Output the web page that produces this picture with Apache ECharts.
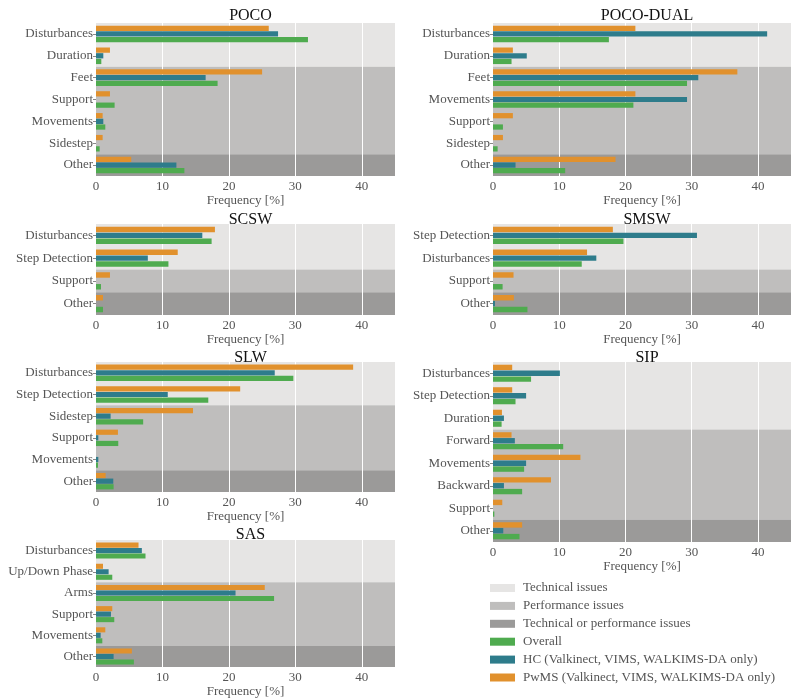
<!DOCTYPE html>
<html>
<head>
<meta charset="utf-8">
<script src="https://cdn.jsdelivr.net/npm/echarts@6/dist/echarts.min.js"></script>
<style>
  html, body { margin: 0; padding: 0; background: #fff; }
  #chart { width: 800px; height: 699px; }
</style>
</head>
<body>
<div id="chart"></div>
<script>
// band types: T = technical, P = performance, O = technical or performance
const pocoCats = ['Disturbances', 'Duration', 'Feet', 'Support', 'Movements', 'Sidestep', 'Other']
const pocoBands = ['T', 'T', 'P', 'P', 'P', 'P', 'O']
const pocoOverall = [31.9, 0.8, 18.3, 2.8, 1.4, 0.55, 13.3]
const pocoHc = [27.4, 1.1, 16.5, 0, 1.1, 0, 12.1]
const pocoPwms = [26.0, 2.1, 25.0, 2.1, 1.0, 1.0, 5.3]

const dualCats = ['Disturbances', 'Duration', 'Feet', 'Movements', 'Support', 'Sidestep', 'Other']
const dualBands = ['T', 'T', 'P', 'P', 'P', 'P', 'O']
const dualOverall = [17.5, 2.8, 29.3, 21.2, 1.5, 0.7, 10.9]
const dualHc = [41.4, 5.1, 31.0, 29.3, 0, 0, 3.4]
const dualPwms = [21.5, 3.0, 36.9, 21.5, 3.0, 1.5, 18.5]

const scswCats = ['Disturbances', 'Step Detection', 'Support', 'Other']
const scswBands = ['T', 'T', 'P', 'O']
const scswOverall = [17.4, 10.9, 0.75, 1.05]
const scswHc = [16.0, 7.8, 0, 0]
const scswPwms = [17.9, 12.3, 2.1, 1.05]

const smswCats = ['Step Detection', 'Disturbances', 'Support', 'Other']
const smswBands = ['T', 'T', 'P', 'O']
const smswOverall = [19.7, 13.4, 1.45, 5.2]
const smswHc = [30.8, 15.6, 0, 0.3]
const smswPwms = [18.1, 14.2, 3.1, 3.15]

const slwCats = ['Disturbances', 'Step Detection', 'Sidestep', 'Support', 'Movements', 'Other']
const slwBands = ['T', 'T', 'P', 'P', 'P', 'O']
const slwOverall = [29.7, 16.9, 7.1, 3.35, 0.3, 2.65]
const slwHc = [26.9, 10.8, 2.2, 0.35, 0.35, 2.6]
const slwPwms = [38.7, 21.7, 14.6, 3.3, 0, 1.45]

const sipCats = ['Disturbances', 'Step Detection', 'Duration', 'Forward', 'Movements', 'Backward', 'Support', 'Other']
const sipBands = ['T', 'T', 'T', 'P', 'P', 'P', 'P', 'O']
const sipOverall = [5.75, 3.4, 1.3, 10.6, 4.7, 4.4, 0.2, 4.0]
const sipHc = [10.1, 5.0, 1.65, 3.3, 5.0, 1.65, 0, 1.55]
const sipPwms = [2.9, 2.9, 1.35, 2.8, 13.2, 8.75, 1.4, 4.4]

const sasCats = ['Disturbances', 'Up/Down Phase', 'Arms', 'Support', 'Movements', 'Other']
const sasBands = ['T', 'T', 'P', 'P', 'P', 'O']
const sasOverall = [7.45, 2.45, 26.8, 2.75, 0.95, 5.7]
const sasHc = [6.9, 1.9, 21.0, 2.25, 0.7, 2.65]
const sasPwms = [6.4, 1.05, 25.4, 2.45, 1.4, 5.4]

const FONT = 'Liberation Serif'
const bandColors = { T: '#e6e5e4', P: '#bfbebd', O: '#9b9a99' }
const bandNames = { T: 'Technical issues', P: 'Performance issues', O: 'Technical or performance issues' }
const nameOverall = 'Overall'
const nameHc = 'HC (Valkinect, VIMS, WALKIMS-DA only)'
const namePwms = 'PwMS (Valkinect, VIMS, WALKIMS-DA only)'
const colOverall = '#4fab4f'
const colHc = '#2e7c8b'
const colPwms = '#e1912d'

const panels = [
  { title: 'POCO', cats: pocoCats, bands: pocoBands, overall: pocoOverall, hc: pocoHc, pwms: pocoPwms, rect: [96, 23, 299, 153], titleY: 3 },
  { title: 'POCO-DUAL', cats: dualCats, bands: dualBands, overall: dualOverall, hc: dualHc, pwms: dualPwms, rect: [493, 23, 298, 153], titleY: 3 },
  { title: 'SCSW', cats: scswCats, bands: scswBands, overall: scswOverall, hc: scswHc, pwms: scswPwms, rect: [96, 224, 299, 91], titleY: 207 },
  { title: 'SMSW', cats: smswCats, bands: smswBands, overall: smswOverall, hc: smswHc, pwms: smswPwms, rect: [493, 224, 298, 91], titleY: 207 },
  { title: 'SLW', cats: slwCats, bands: slwBands, overall: slwOverall, hc: slwHc, pwms: slwPwms, rect: [96, 362, 299, 130], titleY: 345 },
  { title: 'SIP', cats: sipCats, bands: sipBands, overall: sipOverall, hc: sipHc, pwms: sipPwms, rect: [493, 362, 298, 180], titleY: 345 },
  { title: 'SAS', cats: sasCats, bands: sasBands, overall: sasOverall, hc: sasHc, pwms: sasPwms, rect: [96, 540, 299, 130], titleY: 522 }
]

const grids = []
const xAxes = []
const yAxes = []
const titles = []
const series = []

panels.forEach((p, i) => {
  const [l, t, w, h] = p.rect
  grids.push({ left: l, top: t, width: w, height: h })
  titles.push({
    text: p.title,
    left: l + w / 2,
    top: p.titleY,
    textAlign: 'center',
    textStyle: { fontFamily: FONT, fontSize: 16, fontWeight: 'normal', color: '#111' }
  })
  xAxes.push({
    type: 'value',
    gridIndex: i,
    min: 0,
    max: 45,
    interval: 10,
    z: 1,
    axisLine: { show: false },
    axisTick: { show: false },
    axisLabel: { fontFamily: FONT, fontSize: 13, color: '#555', margin: 4, showMaxLabel: false },
    splitLine: { show: true, showMinLine: false, showMaxLine: false, lineStyle: { color: '#fff', width: 1 } },
    name: 'Frequency [%]',
    nameLocation: 'middle',
    nameGap: 14,
    nameTextStyle: { fontFamily: FONT, fontSize: 13, color: '#555' }
  })
  yAxes.push({
    type: 'category',
    gridIndex: i,
    data: p.cats,
    inverse: true,
    z: 0,
    axisLine: { show: false },
    axisTick: { show: true, alignWithLabel: true, length: 3, lineStyle: { color: '#888' } },
    axisLabel: { fontFamily: FONT, fontSize: 13, color: '#555', margin: 3 },
    splitLine: { show: false },
    splitArea: { show: true, areaStyle: { color: p.bands.map(b => bandColors[b]) } }
  })
  const bar = (name, data, color) => ({
    type: 'bar',
    name: name,
    xAxisIndex: i,
    yAxisIndex: i,
    data: data,
    barWidth: '24%',
    barGap: '8%',
    itemStyle: { color: color },
    silent: true
  })
  series.push(bar(namePwms, p.pwms, colPwms))
  series.push(bar(nameHc, p.hc, colHc))
  series.push(bar(nameOverall, p.overall, colOverall))
})

// legend entries for the background bands
Object.keys(bandNames).forEach(k => {
  series.push({ type: 'scatter', name: bandNames[k], xAxisIndex: 0, yAxisIndex: 0, data: [], itemStyle: { color: bandColors[k], opacity: 1 } })
})

const option = {
  animation: false,
  backgroundColor: '#fff',
  textStyle: { fontFamily: FONT },
  title: titles,
  grid: grids,
  xAxis: xAxes,
  yAxis: yAxes,
  legend: {
    orient: 'vertical',
    left: 490,
    top: 581,
    padding: 0,
    icon: 'rect',
    itemWidth: 25,
    itemHeight: 8,
    itemGap: 3.9,
    selectedMode: false,
    textStyle: { fontFamily: FONT, fontSize: 13, color: '#555', lineHeight: 14, padding: [0, 0, 0, 3] },
    data: [bandNames.T, bandNames.P, bandNames.O, nameOverall, nameHc, namePwms]
  },
  series: series
}

const chart = echarts.init(document.getElementById('chart'))
chart.setOption(option)
</script>
</body>
</html>
